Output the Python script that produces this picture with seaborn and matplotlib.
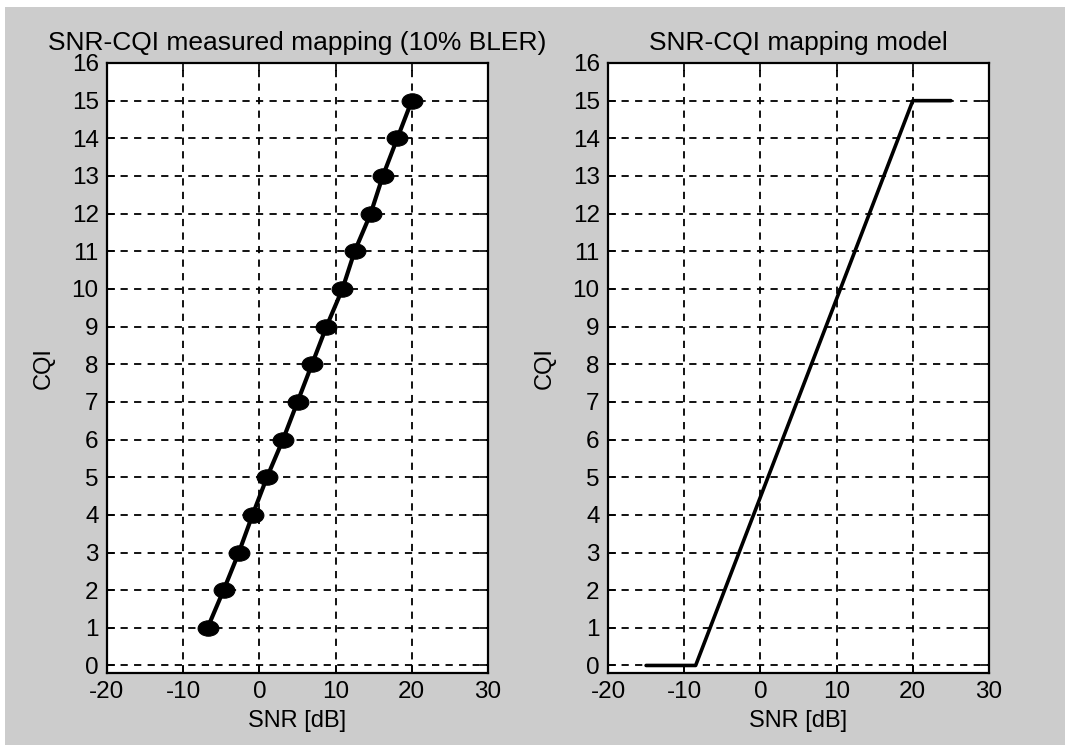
import matplotlib
matplotlib.use("Agg")
import matplotlib.pyplot as plt
import seaborn as sns
import pandas as pd
from matplotlib.patches import Rectangle
from matplotlib.path import Path
from matplotlib.transforms import Affine2D

# Data
cqi_measured = [1, 2, 3, 4, 5, 6, 7, 8, 9, 10, 11, 12, 13, 14, 15]
snr_measured = [-6.8, -4.7, -2.7, -0.9, 1.0, 3.1, 5.0, 6.9, 8.8, 10.9, 12.5, 14.6, 16.2, 18.1, 20.0]
model_snr = [-15, -8.5, 20, 25]
model_cqi = [0, 0, 15, 15]
x_ticks = [-20, -10, 0, 10, 20, 30]
y_ticks = list(range(0, 17))

sns.set_theme(style="white")
plt.rcParams['font.family'] = ['Liberation Sans', 'DejaVu Sans']

df_meas = pd.DataFrame({"SNR": snr_measured, "CQI": cqi_measured})
df_model = pd.DataFrame({"SNR": model_snr, "CQI": model_cqi})

fig = plt.figure(figsize=(10.65, 7.45), dpi=100, facecolor="white")
fig.patches.append(Rectangle((5 / 1065, 0), 1 - 5 / 1065, 1 - 7 / 745,
                             transform=fig.transFigure, facecolor="#cccccc",
                             edgecolor="none", zorder=-10))

ax1 = fig.add_axes([107 / 1065, 1 - 673 / 745, 381 / 1065, 610 / 745])
ax2 = fig.add_axes([608 / 1065, 1 - 673 / 745, 381 / 1065, 610 / 745])

ellipse = Path.unit_circle().transformed(Affine2D().scale(1.35, 1.0))

sns.lineplot(data=df_meas, x="SNR", y="CQI", ax=ax1, color="black", linewidth=3,
             marker=ellipse, markersize=15, markeredgecolor="black", markerfacecolor="black",
             sort=False, zorder=5)
sns.lineplot(data=df_model, x="SNR", y="CQI", ax=ax2, color="black", linewidth=2.6,
             sort=False, zorder=5)

titles = ["SNR-CQI measured mapping (10% BLER)", "SNR-CQI mapping model"]
for ax, t in zip([ax1, ax2], titles):
    ax.set_facecolor("white")
    ax.set_xlim(-20, 30)
    ax.set_ylim(-0.2, 16)
    ax.set_xticks(x_ticks)
    ax.set_yticks(y_ticks)
    ax.set_xticklabels([str(v) for v in x_ticks])
    ax.set_yticklabels([str(v) for v in y_ticks])
    ax.grid(True, color="black", linestyle=(0, (4, 3.5)), linewidth=1.3)
    ax.set_axisbelow(True)
    for s in ax.spines.values():
        s.set_color("black")
        s.set_linewidth(1.6)
        s.set_visible(True)
    ax.tick_params(direction="in", length=6, width=1.2, color="black",
                   top=True, right=True, bottom=True, left=True,
                   labelsize=17.5, labelcolor="black", pad=6)
    ax.set_xlabel("SNR [dB]", fontsize=17, color="black", labelpad=5)
    ax.set_ylabel("CQI", fontsize=17, color="black", labelpad=12)
    ax.set_title(t, fontsize=19, color="black", pad=9)

fig.savefig("out.png", dpi=100, facecolor=fig.get_facecolor())
